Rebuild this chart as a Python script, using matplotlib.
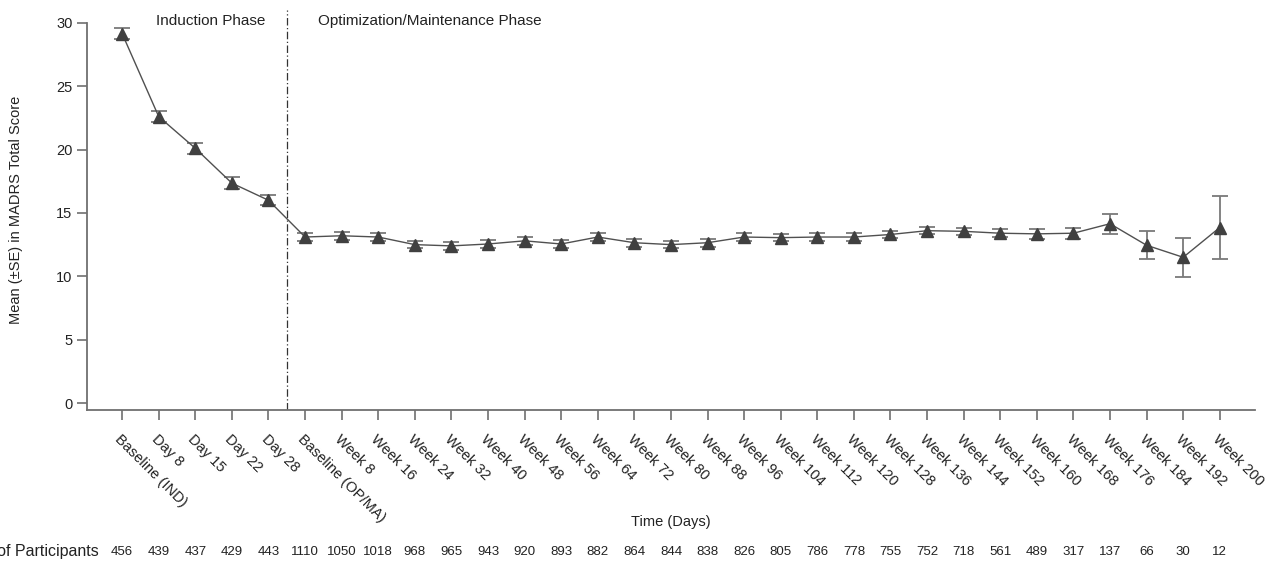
import matplotlib
matplotlib.use("Agg")
import matplotlib.pyplot as plt
import numpy as np

plt.rcParams["font.family"] = ["Liberation Sans", "DejaVu Sans"]

visits = ["Baseline (IND)", "Day 8", "Day 15", "Day 22", "Day 28", "Baseline (OP/MA)",
          "Week 8", "Week 16", "Week 24", "Week 32", "Week 40", "Week 48", "Week 56",
          "Week 64", "Week 72", "Week 80", "Week 88", "Week 96", "Week 104", "Week 112",
          "Week 120", "Week 128", "Week 136", "Week 144", "Week 152", "Week 160",
          "Week 168", "Week 176", "Week 184", "Week 192", "Week 200"]
mean_score = [29.15, 22.6, 20.1, 17.35, 16.0, 13.1,
              13.2, 13.1, 12.5, 12.4, 12.55, 12.8, 12.55,
              13.1, 12.65, 12.5, 12.65, 13.1, 13.05, 13.1,
              13.1, 13.3, 13.6, 13.55, 13.4, 13.35,
              13.4, 14.15, 12.45, 11.5, 13.85]
se_score = [0.45, 0.45, 0.45, 0.45, 0.4, 0.3,
            0.3, 0.3, 0.3, 0.3, 0.3, 0.3, 0.3,
            0.3, 0.3, 0.3, 0.3, 0.3, 0.3, 0.3,
            0.3, 0.3, 0.3, 0.3, 0.3, 0.4,
            0.45, 0.78, 1.1, 1.55, 2.47]
n_participants = [456, 439, 437, 429, 443, 1110, 1050, 1018, 968, 965, 943, 920, 893,
                  882, 864, 844, 838, 826, 805, 786, 778, 755, 752, 718, 561, 489,
                  317, 137, 66, 30, 12]

x = np.arange(len(visits))
grey = "#707070"
dark = "#404040"
text_col = "#222222"

fig = plt.figure(figsize=(12.74, 5.64), dpi=100)
ax = fig.add_axes([0.0683, 0.273, 0.9167, 0.709])

ax.errorbar(x, mean_score, yerr=se_score, fmt="none", ecolor="#7a7a7a",
            elinewidth=1.3, capsize=6, capthick=1.3, zorder=2)
ax.plot(x, mean_score, color="#505050", lw=1.0, zorder=3)
ax.plot(x, mean_score, ls="none", marker="^", ms=8.5, color=dark, zorder=4)

# boundary between the two study phases
ax.axvline(4.5, color="#333333", lw=0.9, ls=(0, (6, 2, 1, 2)), zorder=1)

ax.set_xlim(-0.96, 30.96)
ax.set_ylim(-0.55, 31.0)
ax.set_yticks([0, 5, 10, 15, 20, 25, 30])
ax.set_xticks(x)
ax.set_xticklabels(visits, rotation=-45, ha="left", va="top", rotation_mode="anchor")

for side in ["top", "right"]:
    ax.spines[side].set_visible(False)
for side in ["left", "bottom"]:
    ax.spines[side].set_color(grey)
    ax.spines[side].set_linewidth(1.3)
ax.spines["left"].set_bounds(-0.55, 30)
ax.tick_params(axis="both", colors=grey, labelcolor=text_col, labelsize=10.5,
               length=7, width=1.2)
ax.tick_params(axis="x", pad=9)

ax.set_ylabel("Mean (\u00b1SE) in MADRS Total Score", fontsize=10.5, color=text_col, labelpad=24)

ax.text(2.43, 30.15, "Induction Phase", ha="center", va="center", fontsize=11, color=text_col)
ax.text(8.42, 30.15, "Optimization/Maintenance Phase", ha="center", va="center",
        fontsize=11, color=text_col)

trans = ax.get_xaxis_transform()
ax.text(0.5, -0.28, "Time (Days)", transform=ax.transAxes, ha="center", va="center",
        fontsize=10.5, color=text_col)
for xi, n in zip(x, n_participants):
    ax.text(xi, -0.355, str(n), transform=trans, ha="center", va="center",
            fontsize=9.5, color=text_col, clip_on=False)
ax.text(-0.65, -0.355, "Number of Participants", transform=trans, ha="right",
        va="center", fontsize=11.5, color=text_col, clip_on=False)

fig.savefig("out.png", dpi=100)
